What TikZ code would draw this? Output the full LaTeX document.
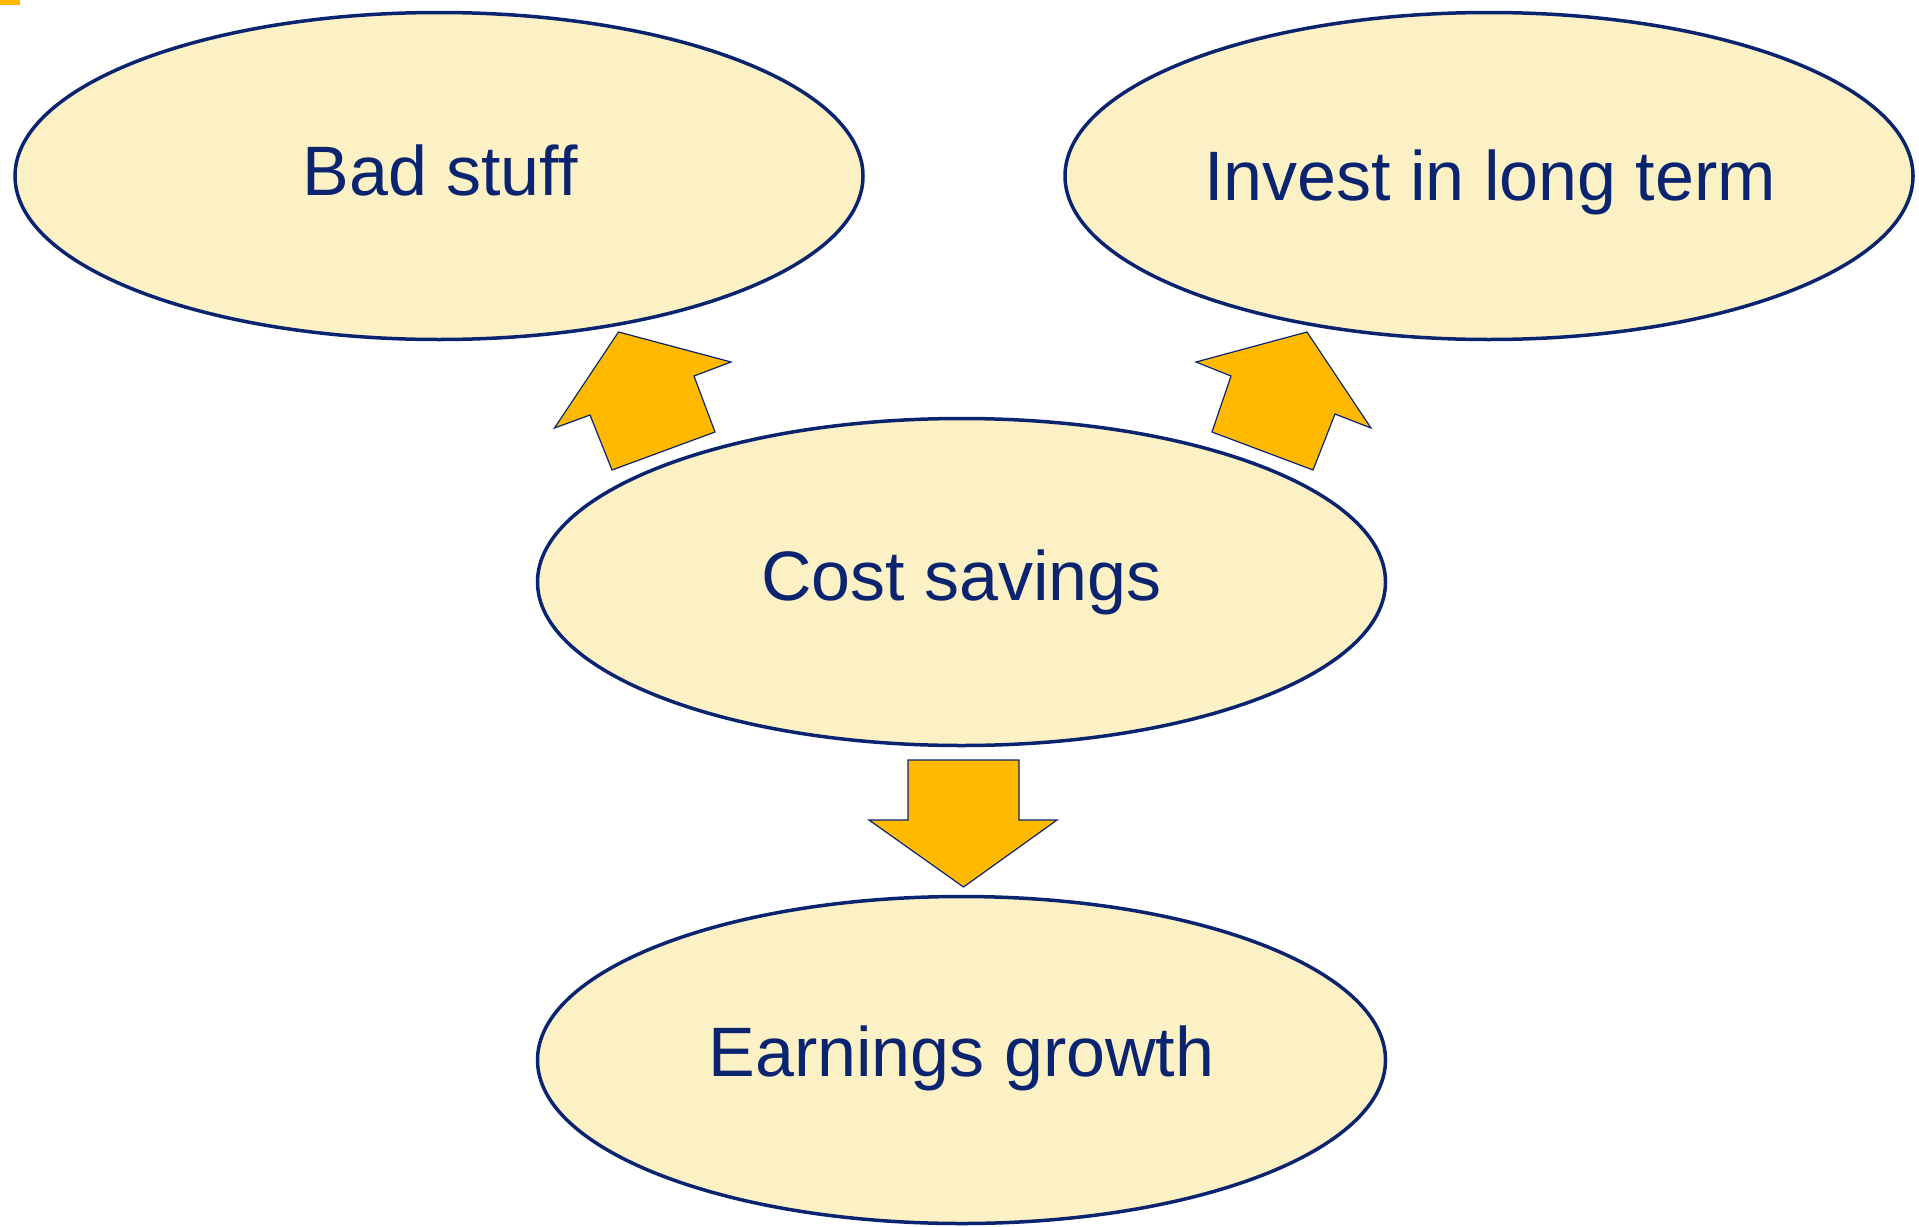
\documentclass[tikz,border=0pt]{standalone}
\usepackage{fontspec}
\setmainfont{Liberation Sans}
\usetikzlibrary{shapes.geometric}
\definecolor{navy}{RGB}{10,36,112}
\definecolor{cream}{RGB}{252,240,197}
\definecolor{amber}{RGB}{255,186,0}
\tikzset{
  bubble/.style={ellipse, draw=navy, line width=3.5pt, fill=cream,
    minimum width=848pt, minimum height=327pt, inner sep=0pt},
  lbl/.style={anchor=base, text=navy, inner sep=0pt, font=\fontsize{70}{80}\selectfont},
  blockarrow/.style={draw=navy, line width=1.2pt, fill=amber, line join=miter}
}
\begin{document}
\begin{tikzpicture}[x=1pt,y=-1pt]
\useasboundingbox (0,0) rectangle (1919,1226);
\fill[amber] (0,0) rectangle (20,5);
\node[bubble] (bad) at (439,176) {};
\node[bubble] (invest) at (1489,176) {};
\node[bubble] (cost) at (961.5,582) {};
\node[bubble] (earn) at (961.5,1060) {};
\node[lbl] (badt) at (440,195) {Bad stuff};
\node[lbl] (investt) at (1490,200) {Invest in long term};
\node[lbl] (costt) at (961.5,600) {Cost savings};
\node[lbl] (earnt) at (961.5,1076) {Earnings growth};
% block arrows
\draw[blockarrow] (618.5,332) -- (731,362) -- (694,376) -- (715,432) -- (612,470) -- (590,415) -- (554.5,428) -- cycle;
\draw[blockarrow] (1307,332) -- (1371,428) -- (1335,414) -- (1313,470) -- (1212,432) -- (1231,376) -- (1196,362) -- cycle;
\draw[blockarrow] (908,760) -- (1019,760) -- (1019,820) -- (1057,820) -- (963.5,887) -- (869,820) -- (908,820) -- cycle;
\end{tikzpicture}
\end{document}
